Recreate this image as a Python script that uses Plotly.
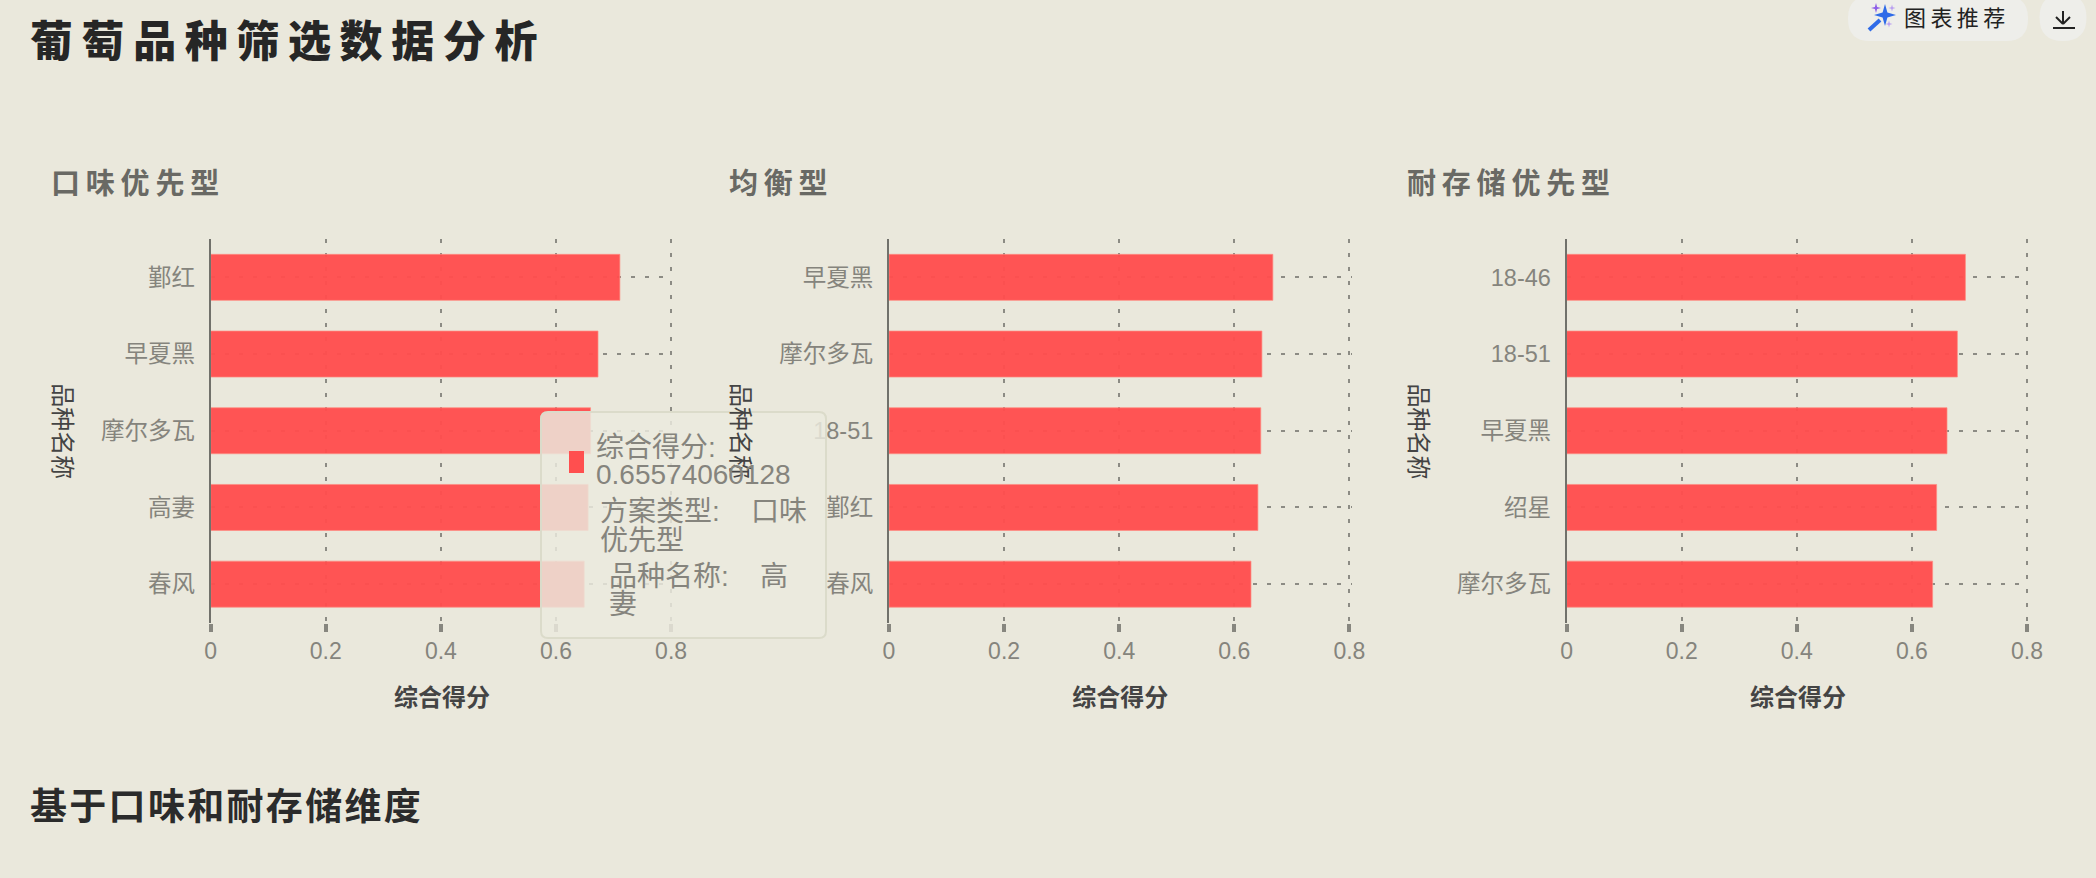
import plotly.graph_objects as go
from plotly.subplots import make_subplots

WIDTH = 2096
HEIGHT = 878

# data
plans = ["口味优先型", "均衡型", "耐存储优先型"]
taste_names = ["鄞红", "早夏黑", "摩尔多瓦", "高妻", "春风"]
taste_scores = [0.711, 0.673, 0.660, 0.65574060128, 0.649]
balanced_names = ["早夏黑", "摩尔多瓦", "18-51", "鄞红", "春风"]
balanced_scores = [0.667, 0.648, 0.646, 0.641, 0.629]
storage_names = ["18-46", "18-51", "早夏黑", "绍星", "摩尔多瓦"]
storage_scores = [0.693, 0.679, 0.661, 0.643, 0.636]
score_ticks = [0, 0.2, 0.4, 0.6, 0.8]

page_title = "葡萄品种筛选数据分析"
section_title = "基于口味和耐存储维度"
x_title = "综合得分"
y_title = "品种名称"
button_text = "图表推荐"

BG = "#EAE8DC"
LATIN_CJK = "Liberation Sans, Noto Sans CJK SC"
CJK = "Noto Sans CJK SC"
THIN = "\u2009"
HAIR = "\u200a"
NBSP = "\u00a0"

axis_left = [210.7, 889.0, 1566.6]
# range stops just past 0.8, plotly drops the gridline that sits on the very edge
x_max = 0.804
axis_width = 460.4 * x_max / 0.8
plot_top = 239
plot_bottom = 622.5


def px(x):
    return x / WIDTH


def py(y):
    return 1 - y / HEIGHT


def spaced(text, gap=THIN):
    return gap.join(text)


def label(text, x, y, size, color, anchor="left", weight=400, family=CJK, angle=0):
    fig.add_annotation(text=text, x=px(x), y=py(y), xref="paper", yref="paper",
                       xanchor=anchor, yanchor="middle", showarrow=False, textangle=angle,
                       font=dict(family=family, size=size, color=color, weight=weight))


def round_rect(x0, y0, x1, y1, r):
    # svg path in paper coordinates, corners are approximated with quadratic curves
    return (f"M{px(x0 + r)},{py(y0)} L{px(x1 - r)},{py(y0)} Q{px(x1)},{py(y0)} {px(x1)},{py(y0 + r)} "
            f"L{px(x1)},{py(y1 - r)} Q{px(x1)},{py(y1)} {px(x1 - r)},{py(y1)} "
            f"L{px(x0 + r)},{py(y1)} Q{px(x0)},{py(y1)} {px(x0)},{py(y1 - r)} "
            f"L{px(x0)},{py(y0 + r)} Q{px(x0)},{py(y0)} {px(x0 + r)},{py(y0)} Z")


def poly(points):
    return "M" + " L".join(f"{px(x)},{py(y)}" for x, y in points) + " Z"


def sparkle(cx, cy, r):
    k = r * 0.22
    return poly([(cx, cy - r), (cx + k, cy - k), (cx + r, cy), (cx + k, cy + k),
                 (cx, cy + r), (cx - k, cy + k), (cx - r, cy), (cx - k, cy - k)])


def paper_shape(path, fill, line_color=None, line_width=0):
    fig.add_shape(type="path", path=path, xref="paper", yref="paper", layer="above",
                  fillcolor=fill, line=dict(color=line_color, width=line_width))


def paper_line(x0, y0, x1, y1, color, width):
    fig.add_shape(type="line", x0=px(x0), y0=py(y0), x1=px(x1), y1=py(y1), xref="paper", yref="paper",
                  layer="above", line=dict(color=color, width=width))


fig = make_subplots(rows=1, cols=3)

panels = [(taste_names, taste_scores), (balanced_names, balanced_scores), (storage_names, storage_scores)]
for i, (names, scores) in enumerate(panels):
    fig.add_trace(go.Bar(x=scores, y=names, orientation="h", name=plans[i], width=0.6,
                         marker=dict(color="rgba(255,78,78,0.96)",
                                     line=dict(color="rgba(255,140,130,0.7)", width=1)),
                         showlegend=False), row=1, col=i + 1)
    fig.update_xaxes(domain=[px(axis_left[i]), px(axis_left[i] + axis_width)], range=[0, x_max],
                     tickvals=score_ticks, ticks="outside", ticklen=8, tickwidth=4, tickcolor="#87867F",
                     showline=False, zeroline=False,
                     showgrid=True, gridcolor="#8C8B84", gridwidth=2, griddash="4px,10px",
                     tickfont=dict(family=LATIN_CJK, size=23, color="#85847D"),
                     title=dict(text=x_title, standoff=26,
                                font=dict(family=CJK, size=24, color="#444444", weight=700)),
                     row=1, col=i + 1)
    fig.update_yaxes(domain=[py(plot_bottom), py(plot_top)], autorange="reversed",
                     showline=True, linecolor="#71716B", linewidth=2, ticks="", ticklabelstandoff=9,
                     zeroline=False, showgrid=True, gridcolor="#8C8B84", gridwidth=2, griddash="4px,10px",
                     tickfont=dict(family=LATIN_CJK, size=23.5, color="#85847D"),
                     row=1, col=i + 1)

fig.update_layout(width=WIDTH, height=HEIGHT, margin=dict(l=0, r=0, t=0, b=0, autoexpand=False),
                  paper_bgcolor=BG, plot_bgcolor=BG, showlegend=False, bargap=0.4)

# page texts
label(spaced(page_title), 28, 38, 43, "#262626", weight=900)
label(spaced(section_title, HAIR), 28, 804, 37, "#2B2B2B", weight=700)
for i, plan in enumerate(plans):
    label(spaced(plan), axis_left[i] - 162, 181, 29, "#696964", weight=700)
    label(y_title, axis_left[i] - 146, 431, 24, "#444444", anchor="center", angle=90)

# buttons at the top right
paper_shape(round_rect(1848, -4, 2028, 41, 22), "#EEEEEA")
paper_shape(round_rect(2039.5, -6, 2086.5, 41, 23.5), "#EEEEEA")
paper_line(1869, 30, 1880, 20, "#2F6BE8", 4)
paper_shape(sparkle(1885, 15, 11), "#2F6BE8")
paper_shape(sparkle(1876, 8, 5), "#8C5CE8")
paper_shape(sparkle(1892, 8, 3.5), "#B79CF0")
paper_shape(sparkle(1889, 24, 3.5), "#B79CF0")
label(spaced(button_text), 1902, 16, 22, "#222222")
paper_line(2063, 11, 2063, 24, "#222222", 2)
paper_line(2056, 17, 2063, 24, "#222222", 2)
paper_line(2070, 17, 2063, 24, "#222222", 2)
paper_line(2053, 28, 2075, 28, "#222222", 2)

# the tooltip that is open over the first panel
paper_shape(round_rect(541, 412, 826, 638, 7), "rgba(235,233,222,0.84)", "#DBDBCA", 2)
paper_shape(poly([(569, 451), (584, 451), (584, 473), (569, 473)]), "#FF4F4F")
tip_lines = [("综合得分:", 594, 447),
             (f"{taste_scores[3]:.11f}", 594, 475),
             (f"方案类型:{NBSP * 4}{plans[0][:2]}", 597.5, 511),
             (plans[0][2:], 597.5, 540),
             (f"品种名称:{NBSP * 4}{taste_names[3][0]}", 607, 576),
             (taste_names[3][1], 607, 604)]
for text, x, y in tip_lines:
    label(text, x, y, 28, "#85847D", family=LATIN_CJK)

# the page default margin would push the figure off the window
fig.write_html("out.html", config={"displayModeBar": False}, post_script="document.body.style.margin = '0';")
